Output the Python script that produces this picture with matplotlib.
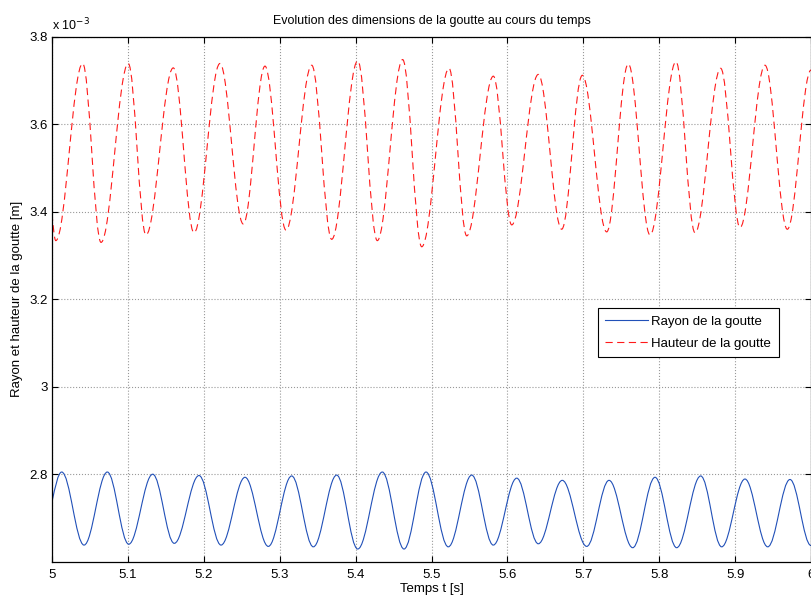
import numpy as np
import matplotlib
matplotlib.use("Agg")
import matplotlib.pyplot as plt
from matplotlib.path import Path
from matplotlib.patches import PathPatch
from matplotlib.lines import Line2D

plt.rcParams['font.family'] = ['Liberation Sans', 'DejaVu Sans']

# rayon : debut puis alternance pic / creux (valeurs en 1e-3 m)
t_rayon = [5.000, 5.0128, 5.0422, 5.0729, 5.1011, 5.1327, 5.1611, 5.1937, 5.2227,
           5.2543, 5.2850, 5.3158, 5.3443, 5.3751, 5.4028, 5.4352, 5.4638, 5.4928,
           5.5221, 5.5530, 5.5814, 5.6123, 5.6407, 5.6723, 5.7045, 5.7339, 5.7651,
           5.7945, 5.8230, 5.8547, 5.8823, 5.9130, 5.9430, 5.9723, 6.000]
v_rayon = [2.737, 2.805, 2.638, 2.805, 2.640, 2.800, 2.642, 2.797, 2.638,
           2.793, 2.635, 2.796, 2.634, 2.798, 2.629, 2.805, 2.629, 2.805,
           2.634, 2.798, 2.638, 2.791, 2.641, 2.786, 2.635, 2.786, 2.632,
           2.793, 2.632, 2.796, 2.634, 2.789, 2.634, 2.788, 2.637]

# hauteur : debut puis alternance creux / pic
t_hauteur = [5.000, 5.0050, 5.0404, 5.0646, 5.1005, 5.1238, 5.1598, 5.1871, 5.2213,
             5.2520, 5.2806, 5.3083, 5.3422, 5.3685, 5.4028, 5.4286, 5.4620, 5.4871,
             5.5231, 5.5464, 5.5815, 5.6057, 5.6407, 5.6715, 5.6987, 5.7308, 5.7593,
             5.7879, 5.8221, 5.8472, 5.8810, 5.9065, 5.9394, 5.9688, 6.000]
v_hauteur = [3.396, 3.334, 3.739, 3.330, 3.739, 3.347, 3.729, 3.352, 3.739,
             3.372, 3.733, 3.358, 3.735, 3.337, 3.745, 3.334, 3.748, 3.320,
             3.728, 3.345, 3.710, 3.370, 3.714, 3.360, 3.712, 3.354, 3.738,
             3.347, 3.743, 3.352, 3.728, 3.364, 3.735, 3.360, 3.724]

xticks = [5, 5.1, 5.2, 5.3, 5.4, 5.5, 5.6, 5.7, 5.8, 5.9, 6]
yticks = [2.8e-3, 3.0e-3, 3.2e-3, 3.4e-3, 3.6e-3, 3.8e-3]


def smooth_path(t, v):
    # courbe lisse entre les extrema (tangente horizontale aux pics/creux)
    t = np.asarray(t)
    v = np.asarray(v) * 1e-3
    verts = [(t[0], v[0])]
    codes = [Path.MOVETO]
    for i in range(len(t) - 1):
        dt = t[i+1] - t[i]
        if i == 0:
            c1 = (t[i] + dt/3, v[i] + 0.5*(v[i+1] - v[i]))
        else:
            c1 = (t[i] + 0.364*dt, v[i])
        c2 = (t[i+1] - 0.364*dt, v[i+1])
        verts += [c1, c2, (t[i+1], v[i+1])]
        codes += [Path.CURVE4] * 3
    return Path(verts, codes)


fig = plt.figure(figsize=(8.11, 5.96), dpi=100)
ax = fig.add_axes([52/811, 34.3/596, 759/811, 524.9/596])

blue = '#2150b8'
red = '#ff1a1a'
dash = (0, (6.5, 4))

ax.add_patch(PathPatch(smooth_path(t_rayon, v_rayon), fill=False, edgecolor=blue, lw=0.8))
ax.add_patch(PathPatch(smooth_path(t_hauteur, v_hauteur), fill=False, edgecolor=red, lw=0.8,
                       linestyle=dash))

ax.set_xlim(5, 6)
ax.set_ylim(2.6e-3, 3.8e-3)
ax.set_xticks(xticks)
ax.set_yticks(yticks)
ax.set_xticklabels(['%g' % x for x in xticks])
ax.set_yticklabels(['%g' % (y*1e3) for y in yticks])
ax.tick_params(direction='in', top=True, right=True, length=4, width=0.8, labelsize=9.5)
ax.tick_params(axis='x', pad=5)
ax.tick_params(axis='y', pad=3)
for s in ax.spines.values():
    s.set_linewidth(0.9)
ax.grid(True, linestyle=':', color='0.6', linewidth=0.8)
ax.set_axisbelow(True)

ax.text(0, 1.006, r'x 10$^{-3}$', transform=ax.transAxes, fontsize=9, ha='left', va='bottom')
ax.set_title('Evolution des dimensions de la goutte au cours du temps', fontsize=9, pad=9)
ax.set_xlabel('Temps t [s]', fontsize=9.5, labelpad=2)
ax.set_ylabel('Rayon et hauteur de la goutte [m]', fontsize=9.5, labelpad=5)

handles = [Line2D([], [], color=blue, lw=0.8),
           Line2D([], [], color=red, lw=0.8, linestyle=dash)]
leg = ax.legend(handles, ['Rayon de la goutte', 'Hauteur de la goutte'],
                loc='upper left', bbox_to_anchor=(0.7194, 0.4833), borderaxespad=0,
                fontsize=9.5, fancybox=False, framealpha=1, edgecolor='black',
                handlelength=3.2, handletextpad=0.3, borderpad=0.55, labelspacing=0.75)
leg.get_frame().set_linewidth(0.8)

fig.savefig('out.png', dpi=100)
